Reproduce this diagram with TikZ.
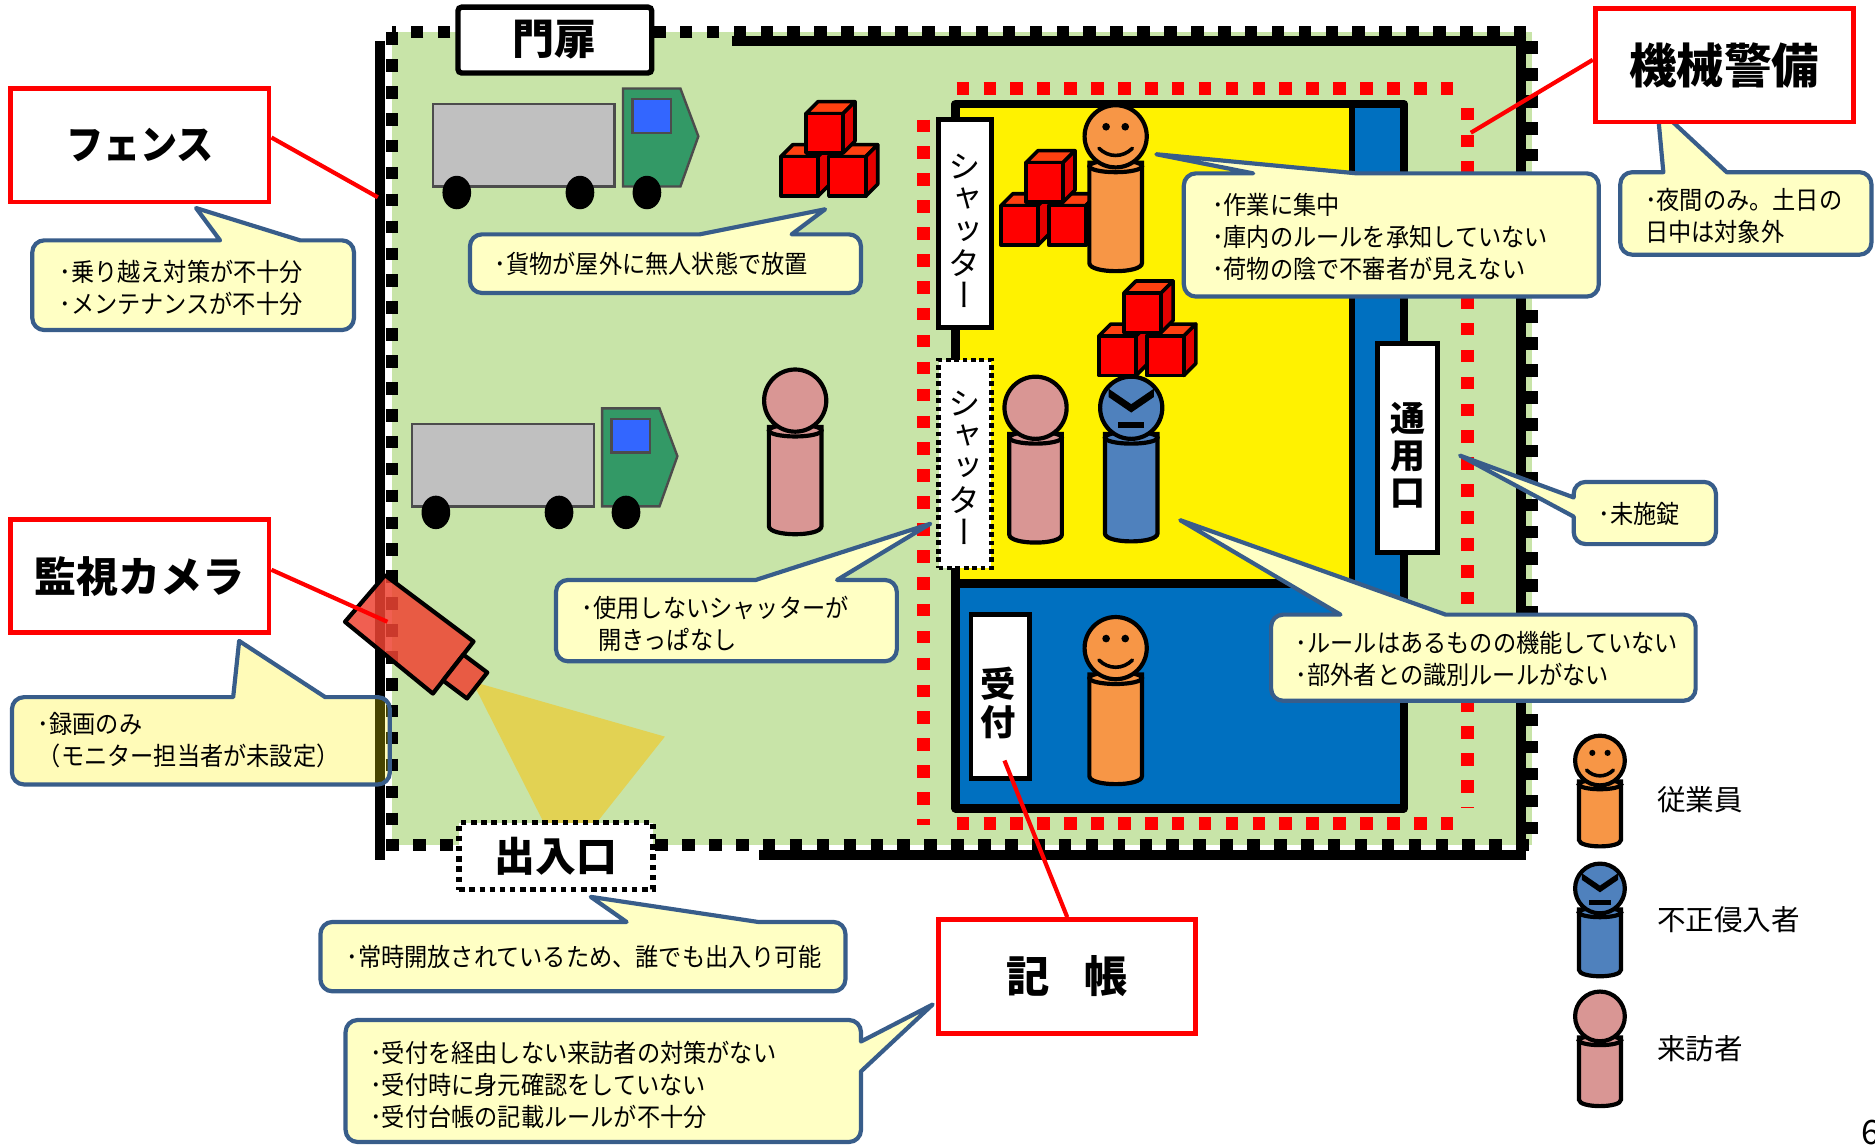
\documentclass[tikz,border=0pt]{standalone}
\usepackage{fontspec}
\setmainfont{Noto Sans CJK JP}
\newfontfamily\notefont{Noto Sans CJK JP}[FakeStretch=0.92]
\newfontfamily\tatefont{Noto Sans CJK JP}[RawFeature=+vert]
\usepackage{tikz}

\definecolor{sitegreen}{RGB}{200,228,168}
\definecolor{whblue}{RGB}{0,112,192}
\definecolor{notebg}{RGB}{255,255,196}
\definecolor{noteline}{RGB}{56,93,138}
\definecolor{staffcol}{RGB}{247,150,70}
\definecolor{guestcol}{RGB}{217,150,148}
\definecolor{thiefcol}{RGB}{79,129,189}
\definecolor{cargogray}{RGB}{192,192,192}
\definecolor{cabgreen}{RGB}{51,153,102}
\definecolor{cabglass}{RGB}{51,102,255}
\definecolor{boxtop}{RGB}{255,64,16}
\definecolor{boxside}{RGB}{228,0,0}
\definecolor{camred}{RGB}{238,68,51}
\definecolor{camlight}{RGB}{226,210,83}

\tikzstyle{note} = [draw=noteline, fill=notebg, line width=0.35mm, line join=round]
\tikzstyle{notetext} = [anchor=west, inner sep=0, align=left, font=\notefont\fontsize{6pt}{7.6pt}\selectfont]
\tikzstyle{tag} = [draw=red, fill=white, line width=0.4mm, inner sep=0]
\tikzstyle{tagline} = [red, line width=0.35mm]
\tikzstyle{sign} = [draw=black, fill=white, line width=0.4mm, inner sep=0]
\tikzstyle{tate} = [inner sep=0, align=center]
\tikzstyle{wall} = [line width=0.7mm, line join=round]
\tikzstyle{fencebar} = [line width=0.85mm]
\tikzstyle{fencepost} = [line width=1mm, dash pattern=on 1.05mm off 1.2mm]
\tikzstyle{alarmzone} = [red, line width=1.1mm, dash pattern=on 1.05mm off 1.2mm]
\tikzstyle{manline} = [draw=black, line width=0.35mm]
\tikzstyle{cubeline} = [draw=black, line width=0.3mm, line join=round]
\tikzstyle{legendtext} = [anchor=west, inner sep=0, font=\fontsize{6.8pt}{6.8pt}\selectfont]

\tikzset{
  % people: head centre at the origin, #1 = body length
  staff/.pic={
    \filldraw[manline, fill=staffcol] (-22,22) -- (-22,#1-7) .. controls (-22,#1+2) and (22,#1+2) .. (22,#1-7) -- (22,22) -- cycle;
    \filldraw[manline, fill=staffcol] (0,25) ellipse[x radius=22, y radius=5];
    \filldraw[manline, fill=staffcol] (0,0) circle[radius=26];
    \fill (-8,-8) circle[radius=3.2] (8,-8) circle[radius=3.2];
    \draw[line width=0.3mm, line cap=round] (-14,10) .. controls (-6,18) and (6,18) .. (14,10);
  },
  guest/.pic={
    \filldraw[manline, fill=guestcol] (-22,22) -- (-22,#1-7) .. controls (-22,#1+2) and (22,#1+2) .. (22,#1-7) -- (22,22) -- cycle;
    \filldraw[manline, fill=guestcol] (0,25) ellipse[x radius=22, y radius=5];
    \filldraw[manline, fill=guestcol] (0,0) circle[radius=26];
  },
  thief/.pic={
    \filldraw[manline, fill=thiefcol] (-22,22) -- (-22,#1-7) .. controls (-22,#1+2) and (22,#1+2) .. (22,#1-7) -- (22,22) -- cycle;
    \filldraw[manline, fill=thiefcol] (0,25) ellipse[x radius=22, y radius=5];
    \filldraw[manline, fill=thiefcol] (0,0) circle[radius=26];
    \fill (-19,-16) -- (0,-3) -- (19,-16) -- (19,-9) -- (0,4) -- (-19,-9) -- cycle;
    \fill (-11,12) rectangle (11,17);
  },
  % lorry: top left corner of the box body at the origin
  truck/.pic={
    \filldraw[draw=black!70, fill=cargogray, line width=0.2mm] (0,0) rectangle (152,69);
    \filldraw[draw=black!70, fill=cabgreen, line width=0.2mm] (159,-13) -- (207,-13) -- (222,27) -- (207,69) -- (159,69) -- cycle;
    \filldraw[draw=black!70, fill=cabglass, line width=0.2mm] (167,-4) rectangle (199,24);
    \fill (20,74) ellipse[x radius=12, y radius=14] (123,74) ellipse[x radius=12, y radius=14] (179,74) ellipse[x radius=12, y radius=14];
  },
  crate/.pic={
    \filldraw[cubeline, fill=boxtop] (0,0) -- (10,-10) -- (41,-10) -- (31,0) -- cycle;
    \filldraw[cubeline, fill=boxside] (31,0) -- (41,-10) -- (41,23) -- (31,33) -- cycle;
    \filldraw[cubeline, fill=red] (0,0) rectangle (31,33);
  },
  crates/.pic={
    \pic at (-21,36) {crate};
    \pic at (19,36) {crate};
    \pic at (0,0) {crate};
  },
}

\begin{document}
\begin{tikzpicture}[x=0.1mm, y=-0.1mm]
    \fill[white] (0,0) rectangle (1568,957);
    \useasboundingbox (0,0) rectangle (1568,957);

    % Site
    \fill[sitegreen] (328,27) rectangle (1281,707);
    \fill[camlight] (395,570) -- (556,616) -- (472,722) -- cycle;

    % Yard
    \pic at (362,87) {truck};
    \pic at (344.5,354.5) {truck};
    \pic at (674,95) {crates};
    \pic at (665,335) {guest=112};

    % Alarm zone
    \draw[alarmzone] (800,74) -- (1215,74);
    \draw[alarmzone] (772,100) -- (772,690);
    \draw[alarmzone] (1227,90) -- (1227,676);
    \draw[alarmzone] (800,689) -- (1215,689);

    % Warehouse
    \fill[whblue] (799,87) rectangle (1174,676);
    \fill[yellow] (799,87) rectangle (1131,488);
    \draw[line width=0.5mm] (1131,87) -- (1131,488);
    \draw[wall] (799,488) -- (1131,488);
    \draw[wall] (799,475) -- (799,676) -- (1174,676) -- (1174,87) -- (799,87) -- (799,100);
    \draw[wall] (799,274) -- (799,301);

    \node[sign, minimum width=4.4mm, minimum height=17.4mm] (shutterA) at (807,187) {};
    \node[sign, dash pattern=on 0.4mm off 0.3mm, minimum width=4.4mm, minimum height=17.4mm] (shutterB) at (807,388) {};
    \node[sign, minimum width=5mm, minimum height=17.5mm] (sidedoor) at (1177,374.5) {};
    \node[sign, minimum width=4.9mm, minimum height=13.7mm] (desk) at (836.5,582.5) {};
    \node[tate, font=\tatefont\fontsize{7.7pt}{7.7pt}\selectfont] (shutterAtext) at (807,193) {シ\\ャ\\ッ\\タ\\ー};
    \node[tate, font=\tatefont\fontsize{7.7pt}{7.7pt}\selectfont] (shutterBtext) at (807,391) {シ\\ャ\\ッ\\タ\\ー};
    \node[tate, font=\tatefont\bfseries\fontsize{8.3pt}{8.8pt}\selectfont] (sidedoortext) at (1177,381) {通\\用\\口};
    \node[tate, font=\tatefont\bfseries\fontsize{8.4pt}{8.9pt}\selectfont] (desktext) at (835,588) {受\\付};

    \pic at (858,136) {crates};
    \pic at (940,245) {crates};
    \pic at (933,114) {staff=113};
    \pic at (866,341) {guest=113};
    \pic at (946,341) {thief=112};
    \pic at (933,542) {staff=114};

    % Fence
    \draw[fencebar] (318,34) -- (318,719);
    \draw[fencebar] (612,34) -- (1272,34) -- (1272,715) -- (635,715);
    \draw[fencepost] (328,27) rectangle (1281,707);
    \node[sign, line width=0.45mm, rounded corners=0.3mm, minimum width=16.2mm, minimum height=5.5mm, font=\bfseries\fontsize{10pt}{10pt}\selectfont] (gate) at (464,33.5) {門扉};
    \node[sign, line width=0.45mm, dash pattern=on 0.45mm off 0.4mm, minimum width=16.2mm, minimum height=5.6mm, font=\bfseries\fontsize{9.7pt}{9.7pt}\selectfont] (entry) at (465,716) {出入口};

    % Camera
    \filldraw[line width=0.35mm, line join=round, fill=camred, fill opacity=0.85] (322,481) -- (396,536.5) -- (362,580) -- (288.5,520) -- cycle;
    \filldraw[line width=0.35mm, line join=round, fill=camred, fill opacity=0.85] (387.5,547.4) -- (407.5,562.4) -- (390.5,584.1) -- (370.5,569.1) -- cycle;

    % Callouts
    \path[note] (161,276) [rounded corners=1mm] -- (27,276) -- (27,201) [sharp corners] -- (184,201) -- (164,174) -- (251,201) [rounded corners=1mm] -- (296,201) -- (296,276) -- cycle;
    \path[note] (556,245) [rounded corners=1mm] -- (393,245) -- (393,196) [sharp corners] -- (585,196) -- (690,175) -- (662,196) [rounded corners=1mm] -- (720,196) -- (720,245) -- cycle;
    \path[note] (1163,248) [rounded corners=1mm] -- (990,248) -- (990,145) [sharp corners] -- (1048,145) -- (967,129) -- (1135,145) [rounded corners=1mm] -- (1337,145) -- (1337,248) -- cycle;
    \path[note] (1460,213) [rounded corners=1mm] -- (1355,213) -- (1355,144) [sharp corners] -- (1391,144) -- (1386,90) -- (1444,144) [rounded corners=1mm] -- (1565,144) -- (1565,213) -- cycle;
    \path[note] (1375,455) [rounded corners=1mm] -- (1316,455) [sharp corners] -- (1316,432) -- (1221,381) -- (1316,416) [rounded corners=1mm] -- (1316,403) -- (1435,403) -- (1435,455) -- cycle;
    \path[note] (560,553) [rounded corners=1mm] -- (465,553) -- (465,485) [sharp corners] -- (632,485) -- (778,438) -- (700,485) [rounded corners=1mm] -- (750,485) -- (750,553) -- cycle;
    \path[note] (1240,586) [rounded corners=1mm] -- (1063,586) -- (1063,514) [sharp corners] -- (1121,514) -- (987,435) -- (1209,514) [rounded corners=1mm] -- (1418,514) -- (1418,586) -- cycle;
    \path[note, fill=yellow, fill opacity=0.28] (168,656) [rounded corners=1mm] -- (10,656) -- (10,583) [sharp corners] -- (195,583) -- (200,536) -- (272,583) [rounded corners=1mm] -- (326,583) -- (326,656) -- cycle;
    \path[note] (488,829) [rounded corners=1mm] -- (268,829) -- (268,771) [sharp corners] -- (524,771) -- (494,750) -- (634,771) [rounded corners=1mm] -- (707,771) -- (707,829) -- cycle;
    \path[note] (504,955) [rounded corners=1mm] -- (289,955) -- (289,853) -- (720,853) [sharp corners] -- (720,871) -- (780,840) -- (720,896) [rounded corners=1mm] -- (720,955) -- cycle;

    \node[notetext] (fencenote) at (49,241) {･乗り越え対策が不十分\\･メンテナンスが不十分};
    \node[notetext] (cargonote) at (413,221) {･貨物が屋外に無人状態で放置};
    \node[notetext] (staffnote) at (1013,198) {･作業に集中\\･庫内のルールを承知していない\\･荷物の陰で不審者が見えない};
    \node[notetext] (alarmnote) at (1375,180.5) {･夜間のみ。土日の\\日中は対象外};
    \node[notetext] (doornote) at (1336,430) {･未施錠};
    \node[notetext] (shutternote) at (486,521.5) {･使用しないシャッターが\\\hspace{1.35mm}開きっぱなし};
    \node[notetext] (rulenote) at (1083,551) {･ルールはあるものの機能していない\\･部外者との識別ルールがない};
    \node[notetext] (cameranote) at (31,619) {･録画のみ\\（モニター担当者が未設定）};
    \node[notetext] (entrynote) at (289,800.5) {･常時開放されているため、誰でも出入り可能};
    \node[notetext] (registernote) at (309,907) {･受付を経由しない来訪者の対策がない\\･受付時に身元確認をしていない\\･受付台帳の記載ルールが不十分};

    % Tags
    \coordinate (fenceend) at (316,165);
    \coordinate (cameraend) at (324,520);
    \coordinate (alarmend) at (1230,111);
    \coordinate (deskend) at (840,636);
    \node[tag, minimum width=21.6mm, minimum height=9.5mm, font=\notefont\bfseries\fontsize{9.6pt}{9.6pt}\selectfont] (fencetag) at (117,121.5) {フェンス};
    \node[tag, minimum width=21.6mm, minimum height=9.45mm, font=\bfseries\fontsize{10pt}{10pt}\selectfont] (cameratag) at (117,482) {監視カメラ};
    \node[tag, minimum width=21.6mm, minimum height=9.5mm, font=\bfseries\fontsize{11.3pt}{11.3pt}\selectfont] (alarmtag) at (1442,54.5) {機械警備};
    \node[tag, minimum width=21.5mm, minimum height=9.5mm, font=\bfseries\fontsize{10.3pt}{10.3pt}\selectfont] (registertag) at (892.5,816.5) {記\hspace{2.9mm}帳};
    \draw[tagline] ([yshift=0.65mm]fencetag.east) -- (fenceend);
    \draw[tagline] ([yshift=0.55mm]cameratag.east) -- (cameraend);
    \draw[tagline] ([yshift=0.45mm]alarmtag.west) -- (alarmend);
    \draw[tagline] (registertag.north) -- (deskend);

    % Legend
    \pic[scale=0.8] at (1338,636) {staff=90};
    \pic[scale=0.8] at (1338,743) {thief=92};
    \pic[scale=0.8] at (1338,850) {guest=94};
    \node[legendtext] (stafflabel) at (1385,669) {従業員};
    \node[legendtext] (thieflabel) at (1385,769) {不正侵入者};
    \node[legendtext] (guestlabel) at (1385,877) {来訪者};

    \node[anchor=north west, inner sep=0, font=\fontsize{8pt}{8pt}\selectfont] (pageno) at (1556,936) {6};
\end{tikzpicture}
\end{document}
